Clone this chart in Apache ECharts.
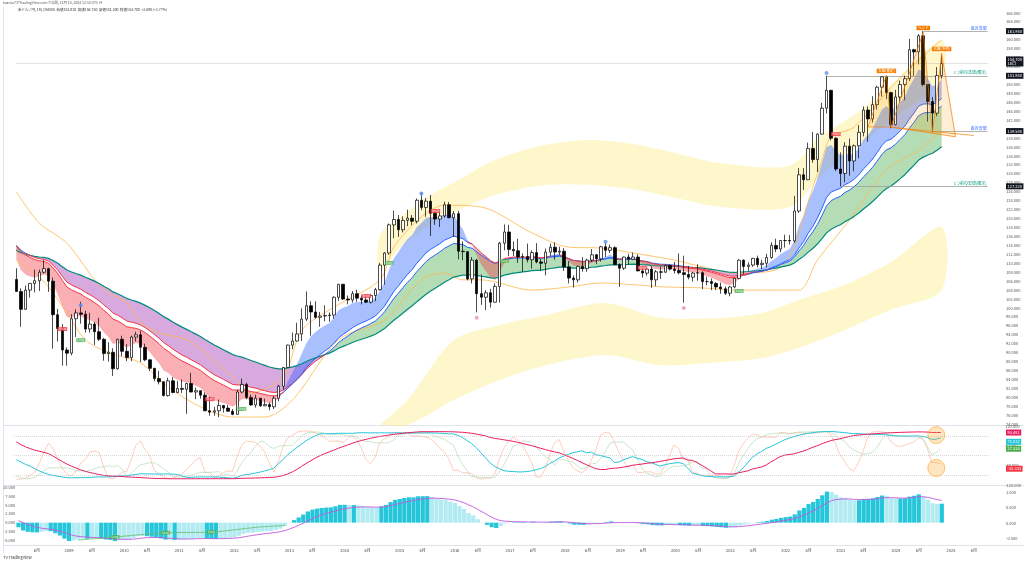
<!DOCTYPE html>
<html><head><meta charset="utf-8">
<script src="https://cdn.jsdelivr.net/npm/echarts/dist/echarts.min.js"></script>
<style>html,body{margin:0;padding:0;background:#fff}#c{width:1024px;height:563px}</style>
</head><body><div id="c"></div><script>
// ---------- DATA (USD/JPY monthly) ----------
const histClose = [105.9,109.1,104.2,110.4,109.6,108.8,111.3,110.0,110.1,105.8,103.1,102.6,
103.6,104.6,107.1,105.0,108.3,110.9,112.4,111.0,113.3,116.4,119.7,117.8,
117.3,115.8,117.8,113.9,112.5,114.4,114.6,117.3,118.0,116.9,115.8,119.0,
120.7,118.5,117.9,119.5,121.7,123.2,118.6,115.8,114.9,115.3,111.2,111.7,106.4];
const open = [106.4,103.7,99.7,104.0,105.5,106.1,108.0,108.8,106.0,98.5,95.4,
90.6,89.9,97.6,98.9,98.6,95.3,96.4,94.7,93.0,89.8,90.1,86.4,
93.0,90.3,88.9,93.5,94.0,91.2,88.4,86.5,84.2,83.5,80.4,83.7,
81.1,82.0,81.8,83.1,81.2,81.5,80.5,77.0,76.7,77.0,78.2,77.6,
76.9,76.2,81.2,82.9,80.0,78.3,79.8,78.1,78.4,77.9,79.8,82.5,
86.7,91.7,92.6,94.2,97.5,100.5,99.1,97.9,98.2,98.3,98.4,102.4,
105.3,102.0,101.8,103.2,102.2,101.8,101.3,102.8,104.1,109.6,112.3,118.6,
119.8,117.5,119.6,120.1,119.4,124.1,122.5,123.9,121.2,119.9,120.6,123.1,
120.2,121.1,112.7,112.6,106.5,110.7,103.2,102.4,103.4,101.3,104.8,114.5,
117.0,113.1,112.8,111.4,111.5,110.8,112.4,110.3,110.0,112.5,113.6,112.5,
112.7,109.2,106.7,106.3,109.3,108.8,110.7,111.9,111.0,113.7,112.9,113.5,
109.7,108.9,111.4,110.9,111.4,108.3,107.8,108.7,106.3,108.1,108.0,109.5,
108.7,108.4,107.9,107.5,106.9,107.8,107.9,105.9,105.9,105.5,104.7,104.3,
103.3,104.7,106.6,110.7,109.3,109.6,111.1,109.7,110.0,111.3,114.0,113.2,
115.1,115.1,115.0,121.7,129.8,128.7,135.7,133.2,138.9,144.7,148.7,138.0,
131.1,130.1,136.2,132.9,136.3,139.3,144.3,142.3,145.5,149.4,151.7,148.2,
141.0,147.2,150.0,151.3,157.8,157.3,160.9,150.0,146.2,143.6,152.0];
const high = [108.9,104.4,105.0,105.5,108.6,108.6,110.7,109.0,106.8,99.8,96.4,
91.2,98.6,99.7,101.4,99.4,98.9,96.9,97.8,93.3,92.3,91.0,93.1,
93.8,91.9,93.8,94.7,94.9,92.0,88.5,86.6,85.9,83.6,84.4,84.5,
83.7,84.0,83.3,85.5,82.2,81.6,81.1,80.2,77.9,79.5,78.3,78.3,
77.4,81.7,84.2,83.3,80.6,80.6,79.9,79.7,78.9,80.3,82.8,86.8,
91.8,94.5,96.7,99.9,103.7,101.5,101.5,99.1,100.6,99.0,102.6,105.4,
105.4,102.8,103.8,104.1,102.8,102.8,103.1,104.5,110.1,112.5,118.9,121.8,
120.8,120.5,122.0,120.8,124.5,125.9,124.6,125.3,121.7,121.5,123.8,123.7,
121.7,121.7,114.9,112.7,111.4,111.0,107.5,104.0,104.3,105.5,114.8,118.7,
118.6,114.9,115.5,112.2,114.4,112.9,114.5,111.0,113.3,114.4,114.7,113.7,
113.4,110.5,107.3,109.5,111.4,111.0,113.2,112.1,113.9,114.5,114.2,113.8,
110.0,111.5,112.1,112.4,112.0,108.8,109.0,109.3,108.5,109.3,109.7,109.7,
110.3,112.2,111.7,109.4,108.1,109.8,108.2,107.0,106.6,105.8,105.7,104.8,
104.9,106.7,110.9,110.9,110.2,111.2,111.7,110.8,112.1,114.7,115.5,115.2,
116.4,116.3,125.1,131.3,131.3,137.0,139.4,139.1,145.9,151.95,148.8,138.2,
134.8,137.1,137.9,136.6,140.9,145.1,145.1,147.4,149.7,151.75,151.9,148.4,
148.8,150.9,151.97,160.2,157.99,161.3,161.95,150.1,147.2,153.9,156.7];
const low = [103.8,95.8,99.6,102.3,103.5,103.8,107.7,103.6,90.9,92.5,87.1,
87.1,89.4,93.5,96.5,94.5,94.5,91.7,92.6,88.2,88.0,84.8,86.2,
89.2,88.1,88.1,92.5,87.9,88.1,85.9,83.6,82.9,80.2,80.2,80.9,
81.0,81.0,76.3,81.1,79.6,79.7,76.9,75.9,75.9,75.57,76.6,76.8,
76.0,76.1,80.9,79.6,78.1,77.7,77.9,78.0,77.1,77.4,79.1,81.7,
86.6,90.8,92.5,92.6,97.1,93.8,97.6,95.8,97.0,96.9,97.6,101.6,
101.8,100.8,101.2,101.4,100.8,101.1,101.0,101.5,103.9,105.2,111.9,115.6,
115.9,116.9,118.3,118.5,118.9,121.9,120.4,116.1,118.6,118.1,120.2,120.1,
115.9,110.9,110.7,106.2,105.5,99.0,100.7,99.5,100.1,101.2,101.2,112.9,
111.6,111.6,110.1,108.1,110.2,108.8,110.0,108.3,107.3,111.7,110.8,111.9,
108.3,105.5,104.6,105.7,108.1,108.1,110.3,109.8,110.4,111.4,112.3,109.6,
104.7,108.5,109.7,110.8,108.2,106.8,107.2,104.5,104.9,106.5,107.9,108.4,
107.7,107.5,101.2,106.4,105.9,106.1,104.2,105.1,104.0,104.0,103.2,102.9,
102.6,104.4,106.4,107.5,108.3,109.2,109.1,108.7,109.1,111.0,112.5,112.5,
113.5,114.2,114.6,121.3,126.4,128.6,132.5,130.4,138.8,143.5,137.5,130.6,
127.22,128.1,129.6,130.6,133.5,138.4,137.2,141.5,144.4,147.3,146.7,140.2,
140.8,145.9,146.5,150.8,151.9,154.5,149.6,141.7,139.58,142.9,151.3];
const close = [103.7,99.7,104.0,105.5,106.1,108.0,108.8,106.0,98.5,95.4,90.6,
89.9,97.6,98.9,98.6,95.3,96.4,94.7,93.0,89.8,90.1,86.4,93.0,
90.3,88.9,93.5,94.0,91.2,88.4,86.5,84.2,83.5,80.4,83.7,81.1,
82.0,81.8,83.1,81.2,81.5,80.5,77.0,76.7,77.0,78.2,77.6,76.9,
76.2,81.2,82.9,80.0,78.3,79.8,78.1,78.4,77.9,79.8,82.5,86.7,
91.7,92.6,94.2,97.5,100.5,99.1,97.9,98.2,98.3,98.4,102.4,105.3,
102.0,101.8,103.2,102.2,101.8,101.3,102.8,104.1,109.6,112.3,118.6,119.8,
117.5,119.6,120.1,119.4,124.1,122.5,123.9,121.2,119.9,120.6,123.1,120.2,
121.1,112.7,112.6,106.5,110.7,103.2,102.4,103.4,101.3,104.8,114.5,117.0,
113.1,112.8,111.4,111.5,110.8,112.4,110.3,110.0,112.5,113.6,112.5,112.7,
109.2,106.7,106.3,109.3,108.8,110.7,111.9,111.0,113.7,112.9,113.5,109.7,
108.9,111.4,110.9,111.4,108.3,107.8,108.7,106.3,108.1,108.0,109.5,108.7,
108.4,107.9,107.5,106.9,107.8,107.9,105.9,105.9,105.5,104.7,104.3,103.3,
104.7,106.6,110.7,109.3,109.6,111.1,109.7,110.0,111.3,114.0,113.2,115.1,
115.1,115.0,121.7,129.8,128.7,135.7,133.2,138.9,144.7,148.7,138.0,131.1,
130.1,136.2,132.9,136.3,139.3,144.3,142.3,145.5,149.4,151.7,148.2,141.0,
147.2,150.0,151.3,157.8,157.3,160.9,150.0,146.2,143.6,152.0,154.7];

// thin orange band lines (month index, price)
const thinUpIdx = [0,5,11,17,20,24,27,31,37,42,47,51,58,62,69,79,82,88,93,101,112,120,127,134,143,149,156,165,169,171,175,177,182,193,201];
const thinUpVal = [126,119,114.5,106.3,103.4,101.2,96.7,94.4,92.9,89.0,84.6,81.0,84.6,95,100.2,106.3,113.6,120.4,123.0,122.6,116.8,113.6,113.4,112.3,110.7,109.2,107.8,108.5,113.6,120.4,133.1,138.3,140.5,152.6,160];
const thinLoIdx = [0,4,7,11,15,20,27,33,40,47,54,60,70,80,88,93,97,101,112,120,127,134,141,149,156,162,170,174,181,189,196,201];
const thinLoVal = [110.7,107.8,104.7,98.9,92.9,90.0,87.7,82.3,77.9,75.6,75.6,79.4,92.9,97.3,106.3,107.8,106.3,106.3,104.0,104.7,105.6,105.2,104.7,104.5,104.0,104.0,104.0,110.7,119.7,130.9,135.3,139.8];
// pale yellow bands (month index, outer edge, inner edge)
const paleUpIdx = [79,84,90,96,104,115,125,135,145,153,168,175,182,190,201];
const paleUpTop = [116.3,120.8,125.3,128.6,133.1,136.5,137.6,136.5,134.2,132.4,131.9,138.7,143.2,149.9,159.9];
const paleUpBot = [108.5,114.1,118.6,121.9,125.3,127.5,127.5,126.4,124.2,122.6,122.6,129.8,135.3,142.1,151.0];
const paleLoIdx = [79,85,95,105,115,128,140,153,162,170,180,190,201];
const paleLoTop = [70.5,79.4,92.8,96.2,98.4,101.1,97.8,97.8,98.9,101.8,105.2,110.3,118.1];
const paleLoBot = [61,69.4,79.4,83.9,87.2,89.5,87.2,87.9,88.8,91.1,95.1,99.6,104.0];
// green trend line in the lower panel (month index, value)
const grnIdx = [13,21,32,42,52,58];
const grnVal = [-5.0,-4.1,-2.9,-2.7,-1.3,-0.8];
const grnTagIdx = [21,32,42];
// pivot dots
const pivHiIdx = [14,88,128,176], pivHiVal = [100.6,125.6,114.8,152.6];
const pivLoIdx = [100,145], pivLoVal = [97.8,100.0];
// signal tags
const tagIdx = [10,14,42,49,76,81,91,106,136,157,178];
const tagVal = [95.3,92.8,79.6,77.4,102.7,110.1,121.7,110.5,109.0,103.8,138.9];
const tagTxt = ['Short','Long','Short','Long','Short','Long','Short','Long','Short','Long','Short'];
// horizontal levels
const levelVal = [161.95,151.95,139.58,127.22];
const levelFrom = [197,176,199,179];
const levelTxt = ['直近高値','1つ前の高値(確定)','直近安値','1つ前の安値(確定)'];
const levelCol = ['#2962ff','#089981','#2962ff','#089981'];
// head & shoulders drawing (month index, price)
const hsIdx = [185,189,190.4,197,199.1,201.3,203.9];
const hsVal = [140.5,152.1,140.5,161.7,139.1,157.0,138.3];
const neckIdx = [190,207.5], neckVal = [140.4,138.6];
const hsLabelTxt = ['左肩(確定)','ヘッド','右肩(予想)'];
// highlighted circles in the RCI panel (month index, value)
const circIdx = [200.2,200.2], circVal = [83,-51];
const lastPrice = 154.7;

// ---------- categories ----------
const NCAT = 212;
const cats = [];
for (let i = 0; i < NCAT; i++) { const t = 1 + i; cats.push((2008 + Math.floor(t / 12)) + '-' + String(t % 12 + 1).padStart(2, '0')); }

// ---------- indicators derived from closes ----------
const allClose = histClose.concat(close);
const H = histClose.length;
function ema(a, n) { const k = 2 / (n + 1); let e = a[0]; return a.map((v, i) => i === 0 ? e : (e = v * k + e * (1 - k))); }
function rci(a, n) {
  return a.map((_, i) => {
    if (i < n - 1) return null;
    const w = a.slice(i - n + 1, i + 1); let d2 = 0;
    for (let k = 0; k < n; k++) {
      const v = w[k]; let hi = 0, eq = 0;
      for (const u of w) { if (u > v) hi++; else if (u === v) eq++; }
      d2 += Math.pow((n - k) - (hi + (eq + 1) / 2), 2);
    }
    return (1 - 6 * d2 / (n * (n * n - 1))) * 100;
  });
}
const cut = a => a.slice(H);
const eF = cut(ema(allClose, 8)), eS = cut(ema(allClose, 21)), lF = cut(ema(allClose, 25)), lS = cut(ema(allClose, 50));
const e12 = ema(allClose, 12), e26 = ema(allClose, 26);
const macdAll = e12.map((v, i) => v - e26[i]);
const sigAll = ema(macdAll, 9);
const macd = cut(macdAll), sig = cut(sigAll);
const r9 = cut(rci(allClose, 9)), r13 = cut(rci(allClose, 13)), r26 = cut(rci(allClose, 26)), r52 = cut(rci(allClose, 48));
const N = close.length;

// ---------- helpers ----------
function runs(a, b) {
  const out = []; let cur = null;
  for (let i = 0; i < a.length; i++) {
    const bull = a[i] >= b[i];
    if (!cur || cur.bull !== bull) { if (cur) cur.end = i; cur = { bull, start: cur ? i - 1 : i }; out.push(cur); if (out.length > 1) out[out.length - 2].end = i; }
  }
  cur.end = a.length - 1; return out;
}
function ribbon(a, b, upC, dnC, z) {
  const rs = runs(a, b);
  return { type: 'custom', xAxisIndex: 0, yAxisIndex: 0, z: z, silent: true,
    data: rs.map((r, k) => [r.start, a[r.start], k]), encode: { x: 0, y: 1 },
    renderItem(p, api) {
      const r = rs[api.value(2)]; const pts = [];
      for (let i = r.start; i <= r.end; i++) pts.push(api.coord([i, a[i]]));
      for (let i = r.end; i >= r.start; i--) pts.push(api.coord([i, b[i]]));
      return { type: 'polygon', shape: { points: pts }, style: { fill: r.bull ? upC : dnC } };
    } };
}
function band(idx, top, bot, col, z) {
  return { type: 'custom', xAxisIndex: 0, yAxisIndex: 0, z: z, silent: true, data: [[idx[0], top[0]]], encode: { x: 0, y: 1 },
    renderItem(p, api) {
      const pts = [];
      idx.forEach((x, i) => pts.push(api.coord([x, top[i]])));
      for (let i = idx.length - 1; i >= 0; i--) pts.push(api.coord([idx[i], bot[i]]));
      const cs = p.coordSys;
      return { type: 'polygon', shape: { points: echarts.graphic.clipPointsByRect(pts, { x: cs.x, y: cs.y, width: cs.width, height: cs.height }), smooth: 0.3 }, style: { fill: col } };
    } };
}
function split(a, b, line) { // line coloured by regime
  const bull = [], bear = [];
  for (let i = 0; i < a.length; i++) {
    const u = a[i] >= b[i], pu = i > 0 ? a[i - 1] >= b[i - 1] : u, nu = i < a.length - 1 ? a[i + 1] >= b[i + 1] : u;
    bull.push(u || pu || nu ? line[i] : null); bear.push(!u || !pu || !nu ? line[i] : null);
  }
  return [bull, bear];
}
function lineS(data, color, w, gi, extra) { return Object.assign({ type: 'line', data: data, xAxisIndex: gi, yAxisIndex: gi, showSymbol: false, silent: true, lineStyle: { color: color, width: w }, z: 3 }, extra || {}); }
const pairs = (ix, v) => ix.map((x, i) => [x, v[i]]);

const [eSbull, eSbear] = split(eF, eS, eS);
const [lFbull, lFbear] = split(lF, lS, lF);
const candles = close.map((c, i) => [open[i], c, low[i], high[i]]);
const macdBars = macd.map((v, i) => {
  const prev = i > 0 ? macd[i - 1] : v; const grow = Math.abs(v) >= Math.abs(prev);
  return { value: v, itemStyle: { color: grow ? '#26c6da' : '#b2ebf2' } };
});

const F = '"Noto Sans CJK JP", "Noto Sans", sans-serif';
const gl = { left: 14, right: 34 };
const xa = (gi, show) => ({ type: 'category', gridIndex: gi, data: cats, boundaryGap: true,
  axisLine: { show: false }, axisTick: { show: false }, splitLine: { show: false },
  axisLabel: show ? { show: true, fontSize: 4, color: '#444', margin: 3, fontFamily: F,
    interval: (i, v) => v.endsWith('-01') || v.endsWith('-06'),
    formatter: v => v.endsWith('-01') ? v.slice(0, 4) : '6月' } : { show: false } });

const mainTicks = []; for (let v = 74; v <= 166; v += 2) mainTicks.push(v);

const chart = echarts.init(document.getElementById('c'));
chart.setOption({
  animation: false, backgroundColor: '#fff',
  grid: [
    Object.assign({ top: 10, height: 415 }, gl),
    Object.assign({ top: 426, height: 59 }, gl),
    Object.assign({ top: 486, height: 59 }, gl)],
  xAxis: [xa(0, false), xa(1, false), xa(2, true)],
  yAxis: [
    { type: 'value', gridIndex: 0, position: 'right', min: 73.82, max: 166.67, splitLine: { show: false }, axisLine: { show: false }, axisTick: { show: false },
      axisLabel: { fontSize: 4, color: '#555', margin: 16, fontFamily: F, customValues: mainTicks, formatter: v => v.toFixed(3) } },
    { type: 'value', gridIndex: 1, position: 'right', min: -120, max: 120, splitLine: { show: false }, axisLine: { show: false }, axisTick: { show: false },
      axisLabel: { fontSize: 4, color: '#555', margin: 16, fontFamily: F, customValues: [120, 40, -40, -120], formatter: v => v.toFixed(3) } },
    { type: 'value', gridIndex: 2, position: 'left', min: -6.4, max: 10.5, splitLine: { show: false }, axisLine: { show: false }, axisTick: { show: false },
      axisLabel: { fontSize: 4, color: '#555', margin: 1, fontFamily: F, customValues: [-5, -2.5, 0, 2.5, 5, 7.5, 10], formatter: v => v.toFixed(3) } },
    { type: 'value', gridIndex: 2, position: 'right', min: -0.73, max: 1.23, splitLine: { show: false }, axisLine: { show: false }, axisTick: { show: false },
      axisLabel: { fontSize: 4, color: '#555', margin: 16, fontFamily: F, customValues: [-0.5, 0, 0.5, 1], formatter: v => v.toFixed(3) } }],
  series: [
    band(paleUpIdx, paleUpTop, paleUpBot, 'rgba(255,235,120,0.38)', 1),
    band(paleLoIdx, paleLoTop, paleLoBot, 'rgba(255,235,120,0.38)', 1),
    ribbon(lF, lS, 'rgba(76,175,80,0.42)', 'rgba(156,39,176,0.40)', 2),
    ribbon(eF, eS, 'rgba(41,98,255,0.40)', 'rgba(242,54,69,0.40)', 2),
    lineS(pairs(thinUpIdx, thinUpVal), '#ffb74d', 0.8, 0, { smooth: 0.3 }),
    lineS(pairs(thinLoIdx, thinLoVal), '#ffb74d', 0.8, 0, { smooth: 0.3 }),
    lineS(lS, '#00897b', 1.2, 0),
    lineS(lFbull, '#2962ff', 1, 0), lineS(lFbear, '#f23645', 1, 0),
    lineS(eSbull, '#2962ff', 1, 0), lineS(eSbear, '#f23645', 1, 0),
    { type: 'candlestick', xAxisIndex: 0, yAxisIndex: 0, data: candles, barWidth: 3, z: 5, silent: true,
      itemStyle: { color: '#ffffff', color0: '#000000', borderColor: '#000000', borderColor0: '#000000', borderWidth: 0.7 },
      markLine: { symbol: 'none', silent: true, animation: false,
        data: levelVal.map((v, i) => [{ coord: [levelFrom[i], v], lineStyle: { color: '#9e9e9e', width: 0.8, type: 'solid' },
          label: { show: true, position: 'insideEndTop', formatter: levelTxt[i], color: levelCol[i], fontSize: 4, fontFamily: F, distance: 1 } },
          { coord: [NCAT - 1, v] }]).concat([[{ coord: [0, lastPrice], lineStyle: { color: '#9e9e9e', width: 0.6, type: [1, 1] }, label: { show: false } }, { coord: [NCAT - 1, lastPrice] }]]) } },
    { type: 'custom', xAxisIndex: 0, yAxisIndex: 0, z: 6, silent: true, data: [[hsIdx[0], hsVal[0]]], encode: { x: 0, y: 1 },
      renderItem(p, api) {
        const P = hsIdx.map((x, i) => api.coord([x, hsVal[i]]));
        const kids = [];
        [[0, 1, 2], [2, 3, 4], [4, 5, 6]].forEach(t => kids.push({ type: 'polygon', shape: { points: t.map(k => P[k]) }, style: { fill: 'rgba(255,152,0,0.16)', stroke: '#f57c00', lineWidth: 0.7 } }));
        const n0 = api.coord([neckIdx[0], neckVal[0]]), n1 = api.coord([neckIdx[1], neckVal[1]]);
        kids.push({ type: 'line', shape: { x1: n0[0], y1: n0[1], x2: n1[0], y2: n1[1] }, style: { stroke: '#f57c00', lineWidth: 0.7 } });
        [1, 3, 5].forEach((k, j) => kids.push({ type: 'text', x: P[k][0], y: P[k][1] - 2, style: { text: hsLabelTxt[j], fill: '#fff', fontSize: 3.5, fontFamily: F, align: 'center', verticalAlign: 'bottom', backgroundColor: '#f57c00', padding: [0.5, 1.5] } }));
        return { type: 'group', children: kids };
      } },
    { type: 'scatter', xAxisIndex: 0, yAxisIndex: 0, data: pairs(pivHiIdx, pivHiVal), symbolSize: 4, itemStyle: { color: '#5c8df0' }, z: 6, silent: true },
    { type: 'scatter', xAxisIndex: 0, yAxisIndex: 0, data: pairs(pivLoIdx, pivLoVal), symbolSize: 4, itemStyle: { color: '#f48fb1' }, z: 6, silent: true },
    { type: 'scatter', xAxisIndex: 0, yAxisIndex: 0, z: 7, silent: true, symbolSize: 0,
      data: tagIdx.map((x, i) => ({ value: [x, tagVal[i]], label: { show: true, formatter: tagTxt[i], position: 'inside', color: '#fff', fontSize: 3, fontFamily: F,
        backgroundColor: tagTxt[i] === 'Long' ? '#4caf50' : '#f23645', padding: [0.5, 1] } })) },
    // RCI panel
    lineS(r9, '#ffab91', 0.6, 1), lineS(r13, '#a5d6a7', 0.6, 1), lineS(r26, '#26c6da', 1, 1), lineS(r52, '#e91e63', 1, 1,
      { markLine: { symbol: 'none', silent: true, label: { show: false }, lineStyle: { color: '#bdbdbd', width: 0.6, type: [1, 1] }, data: [{ yAxis: 80 }, { yAxis: -80 }, { yAxis: 0 }] } }),
    { type: 'scatter', xAxisIndex: 1, yAxisIndex: 1, data: pairs(circIdx, circVal), symbolSize: 17, z: 8, silent: true,
      itemStyle: { color: 'rgba(255,167,38,0.35)', borderColor: '#ffa726', borderWidth: 0.8 } },
    // MACD panel
    { type: 'bar', xAxisIndex: 2, yAxisIndex: 2, data: macdBars, barWidth: '92%', silent: true },
    lineS(sig, '#c158dc', 0.9, 2),
    lineS(pairs(grnIdx, grnVal), '#66bb6a', 0.8, 2, { smooth: 0.3, z: 4 }),
    { type: 'scatter', xAxisIndex: 2, yAxisIndex: 2, z: 7, silent: true, symbolSize: 0,
      data: grnTagIdx.map(x => ({ value: [x, grnVal[grnIdx.indexOf(x)]], label: { show: true, formatter: 'Long', position: 'inside', color: '#fff', fontSize: 3, fontFamily: F, backgroundColor: '#4caf50', padding: [0.5, 1] } })) }
  ]
});

// ---------- overlay graphics (text, axis boxes, panel lines) ----------
const g = [];
const py = v => chart.convertToPixel({ yAxisIndex: 0 }, v);
function box(y, txt, bg) { g.push({ type: 'text', x: 1006, y: y, z: 100, style: { text: txt, fill: '#fff', fontSize: 4, fontFamily: F, verticalAlign: 'middle', backgroundColor: bg, padding: [1, 1.5] } }); }
levelVal.forEach(v => box(py(v), v.toFixed(3), '#131722'));
box(py(lastPrice) - 2, lastPrice.toFixed(3) + '\n16日', '#131722');
const ry = v => chart.convertToPixel({ yAxisIndex: 1 }, v);
box(ry(r52[N - 1]), r52[N - 1].toFixed(3), '#e91e63');
box(ry(r26[N - 1]) + 4, r26[N - 1].toFixed(3), '#26c6da');
box(ry(r13[N - 1]), r13[N - 1].toFixed(3), '#4caf50');
box(ry(r9[N - 1]) + 5, r9[N - 1].toFixed(3), '#f23645');
[425.5, 485.5, 545.5].forEach(y => g.push({ type: 'line', shape: { x1: 3, y1: y, x2: 1024, y2: y }, style: { stroke: '#e0e3eb', lineWidth: 1 } }));
g.push({ type: 'line', shape: { x1: 3.5, y1: 7, x2: 3.5, y2: 553 }, style: { stroke: '#e0e3eb', lineWidth: 1 } });
g.push({ type: 'text', x: 3, y: 1, style: { text: 'kazuto7がTradingView.comで公開, 11月 15, 2024 12:14 UTC+9', fontSize: 3.5, fill: '#555', fontFamily: F } });
g.push({ type: 'text', x: 18, y: 8, style: { text: '米ドル / 円, 1M, OANDA  始値152.010  高値156.750  安値151.300  終値154.700  +2.690 (+1.77%)', fontSize: 3.5, fill: '#333', fontFamily: F } });
g.push({ type: 'text', x: 3, y: 555, style: { text: 'TV TradingView', fontSize: 4, fill: '#333', fontFamily: F } });
chart.setOption({ graphic: g });
</script></body></html>
